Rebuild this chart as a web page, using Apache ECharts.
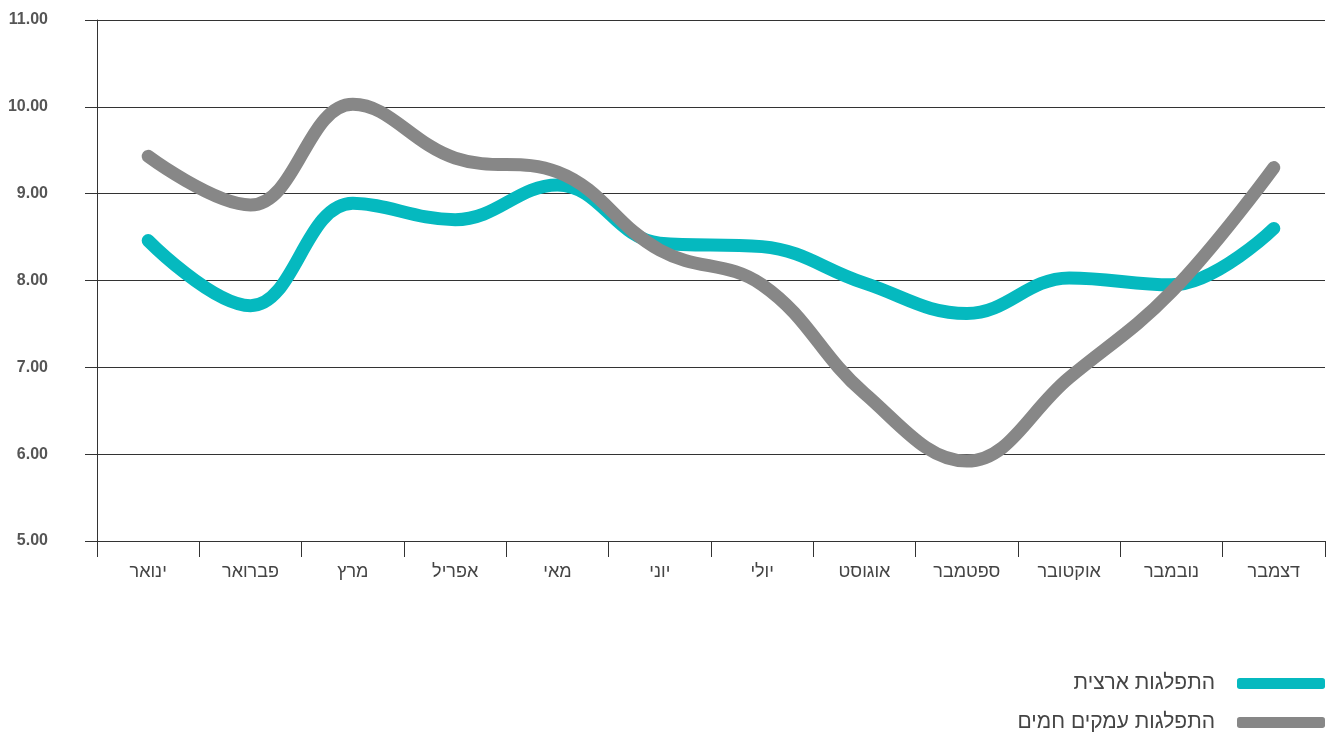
<!DOCTYPE html>
<html>
<head>
<meta charset="utf-8">
<script src="https://cdn.jsdelivr.net/npm/echarts@6/dist/echarts.min.js"></script>
<style>
  html, body { margin: 0; padding: 0; background: #fff; }
  #chart { width: 1333px; height: 735px; }
</style>
</head>
<body>
<div id="chart"></div>
<script>
var months = ['ינואר', 'פברואר', 'מרץ', 'אפריל', 'מאי', 'יוני', 'יולי', 'אוגוסט', 'ספטמבר', 'אוקטובר', 'נובמבר', 'דצמבר'];
var nationalName = 'התפלגות ארצית';
var nationalValues = [8.46, 7.71, 8.89, 8.70, 9.10, 8.43, 8.39, 7.97, 7.62, 8.03, 7.95, 8.60];
var valleyName = 'התפלגות עמקים חמים';
var valleyValues = [9.43, 8.87, 10.03, 9.41, 9.25, 8.35, 7.95, 6.70, 5.92, 6.88, 7.87, 9.30];

var chart = echarts.init(document.getElementById('chart'));

function lineSeries(name, data, color) {
  return {
    name: name,
    type: 'line',
    data: data,
    smooth: 0.4,
    symbol: 'none',
    lineStyle: { width: 13, color: color, cap: 'round', join: 'round' },
    itemStyle: { color: color }
  };
}

function legendItem(name, top) {
  return {
    orient: 'vertical',
    right: 3,
    top: top,
    align: 'right',
    itemWidth: 88,
    itemHeight: 11,
    itemGap: 10,
    icon: 'roundRect',
    textStyle: { fontSize: 21, color: '#444', padding: [0, 17, 0, 0] },
    data: [name]
  };
}

var option = {
  animation: false,
  textStyle: { fontFamily: 'Liberation Sans, Arial, sans-serif' },
  grid: { left: 97, right: 8, top: 20, bottom: 194 },
  legend: [legendItem(nationalName, 668), legendItem(valleyName, 707)],
  xAxis: {
    type: 'category',
    data: months,
    boundaryGap: true,
    axisLine: { lineStyle: { color: '#333', width: 1 } },
    axisTick: { show: true, length: 16, lineStyle: { color: '#333' } },
    axisLabel: { margin: 22, fontSize: 18, color: '#444' }
  },
  yAxis: {
    type: 'value',
    min: 5,
    max: 11,
    interval: 1,
    axisLine: { show: true, lineStyle: { color: '#333', width: 1 } },
    axisTick: { show: true, length: 12, lineStyle: { color: '#333' } },
    splitLine: { lineStyle: { color: '#333', width: 1 } },
    axisLabel: {
      margin: 49,
      fontSize: 16,
      fontWeight: 'bold',
      color: '#555',
      formatter: function (v) { return v.toFixed(2); }
    }
  },
  series: [
    lineSeries(nationalName, nationalValues, '#05B9BF'),
    lineSeries(valleyName, valleyValues, '#878787')
  ]
};

chart.setOption(option);
</script>
</body>
</html>
